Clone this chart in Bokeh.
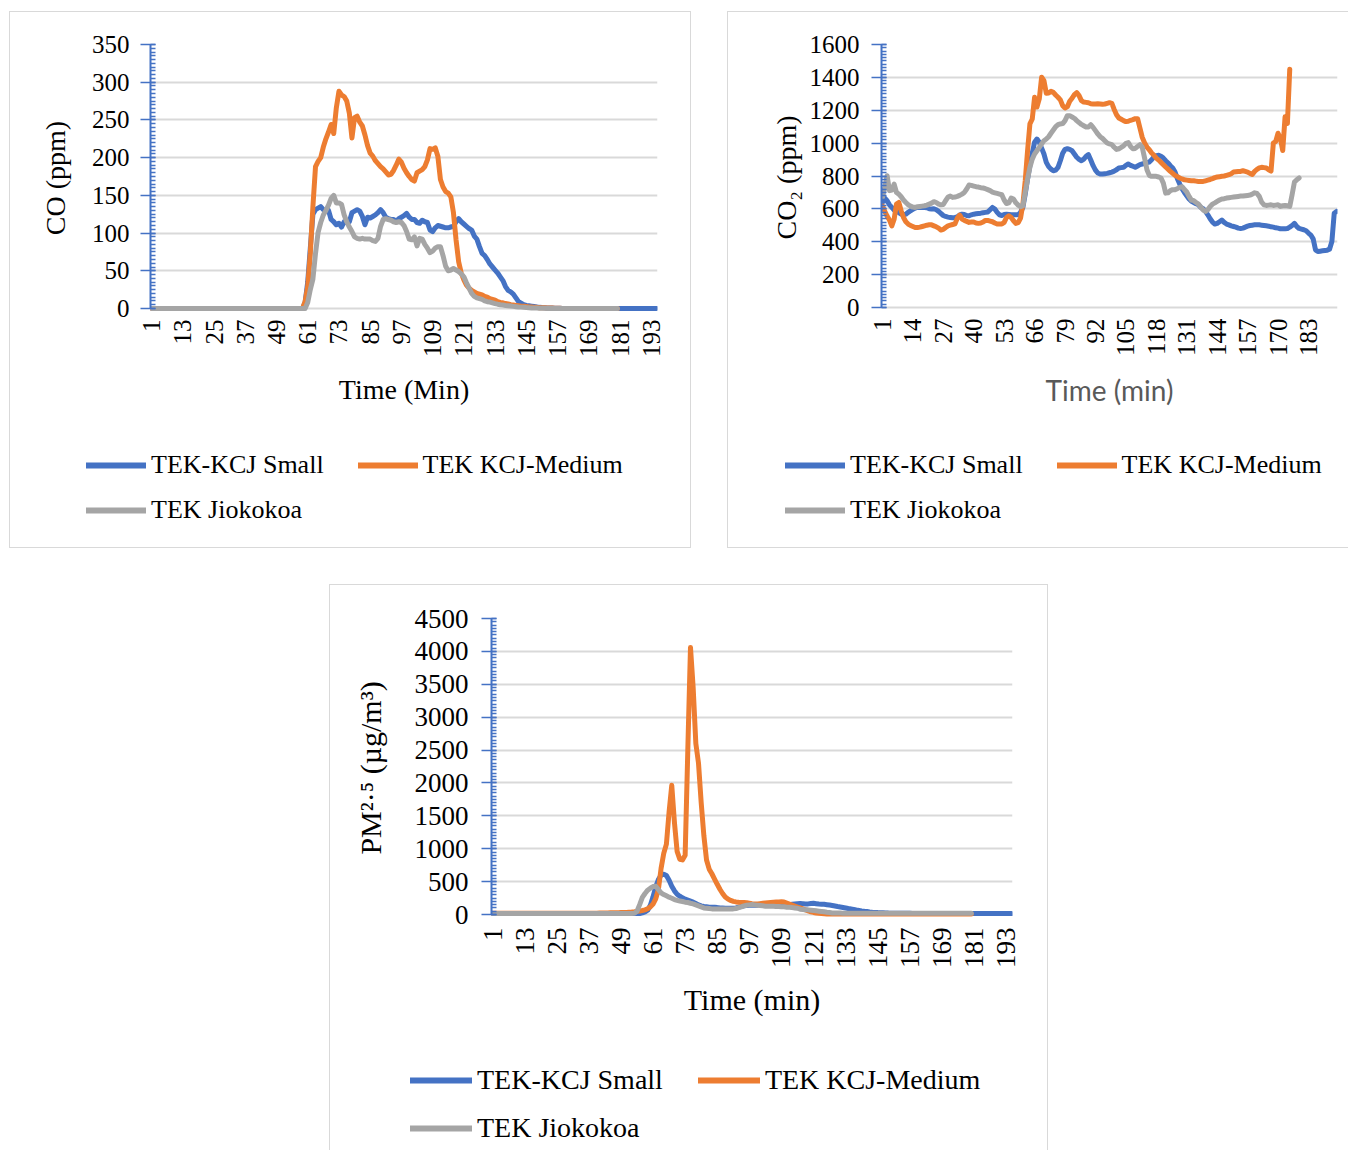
import math
from bokeh.plotting import figure
from bokeh.models import Range1d, FixedTicker, Legend, LegendItem, Spacer
from bokeh.layouts import row, column
from bokeh.embed import file_html
from bokeh.resources import INLINE

series_names = ["TEK-KCJ Small", "TEK KCJ-Medium", "TEK Jiokokoa"]
series_colors = ["#4472C4", "#ED7D31", "#A5A5A5"]

co_x_ticks = [1, 13, 25, 37, 49, 61, 73, 85, 97, 109, 121, 133, 145, 157, 169, 181, 193]
co2_x_ticks = [1, 14, 27, 40, 53, 66, 79, 92, 105, 118, 131, 144, 157, 170, 183]
pm_x_ticks = [1, 13, 25, 37, 49, 61, 73, 85, 97, 109, 121, 133, 145, 157, 169, 181, 193]
co_y_ticks = [0, 50, 100, 150, 200, 250, 300, 350]
co2_y_ticks = [0, 200, 400, 600, 800, 1000, 1200, 1400, 1600]
pm_y_ticks = [0, 500, 1000, 1500, 2000, 2500, 3000, 3500, 4000, 4500]

# ---------------- CO (ppm) ----------------
co_small = [
    0, 0, 0, 0, 0, 0, 0, 0, 0, 0,
    0, 0, 0, 0, 0, 0, 0, 0, 0, 0,
    0, 0, 0, 0, 0, 0, 0, 0, 0, 0,
    0, 0, 0, 0, 0, 0, 0, 0, 0, 0,
    0, 0, 0, 0, 0, 0, 0, 0, 0, 0,
    0, 0, 0, 0, 0, 0, 0, 0, 0, 8,
    35, 80, 125, 131, 133, 135, 131, 129, 130, 118,
    115, 111, 113, 108, 115, 114, 115, 127, 129, 131,
    129, 122, 111, 121, 120, 122, 124, 127, 131, 127,
    121, 119, 118, 118, 115, 119, 121, 123, 126, 121,
    118, 118, 114, 113, 117, 115, 114, 104, 102, 107,
    110, 109, 108, 107, 107, 108, 109, 115, 119, 115,
    112, 109, 106, 104, 96, 92, 82, 73, 70, 65,
    59, 55, 51, 47, 42, 37, 29, 24, 22, 19,
    14, 9, 7, 5, 4, 3.5, 3, 2.5, 2, 1.5,
    1.2, 1, 0.8, 0.6, 0.5, 0.4, 0.3, 0.2, 0.1, 0,
    0, 0, 0, 0, 0, 0, 0, 0, 0, 0,
    0, 0, 0, 0, 0, 0, 0, 0, 0, 0,
    0, 0, 0, 0, 0, 0, 0, 0, 0, 0,
    0, 0, 0, 0, 0,
]
co_medium = [
    0, 0, 0, 0, 0, 0, 0, 0, 0, 0,
    0, 0, 0, 0, 0, 0, 0, 0, 0, 0,
    0, 0, 0, 0, 0, 0, 0, 0, 0, 0,
    0, 0, 0, 0, 0, 0, 0, 0, 0, 0,
    0, 0, 0, 0, 0, 0, 0, 0, 0, 0,
    0, 0, 0, 0, 0, 0, 0, 0, 0, 9,
    29, 73, 135, 188, 195, 200, 214, 225, 234, 244,
    232, 266, 288, 283, 281, 275, 259, 226, 253, 255,
    247, 242, 230, 216, 206, 202, 196, 192, 188, 185,
    181, 177, 178, 183, 190, 198, 194, 186, 180, 175,
    171, 169, 180, 182, 184, 188, 197, 212, 211, 213,
    202, 171, 161, 155, 153, 148, 127, 91, 62, 47,
    38, 31, 27, 24, 22, 20, 19, 18, 16, 15,
    13, 12, 11, 9, 8, 7.5, 6.5, 6, 5, 4.5,
    4, 3.5, 3, 3, 2.5, 2, 2, 1.5, 1.5, 1,
    1, 1, 0.8, 0.6, 0.5, 0.4, 0.3, 0.2, 0.1, 0,
    0, 0, 0, 0, 0, 0, 0, 0, 0, 0,
    0, 0, 0, 0, 0, 0, 0, 0, 0, 0,
]
co_jiokokoa = [
    0, 0, 0, 0, 0, 0, 0, 0, 0, 0,
    0, 0, 0, 0, 0, 0, 0, 0, 0, 0,
    0, 0, 0, 0, 0, 0, 0, 0, 0, 0,
    0, 0, 0, 0, 0, 0, 0, 0, 0, 0,
    0, 0, 0, 0, 0, 0, 0, 0, 0, 0,
    0, 0, 0, 0, 0, 0, 0, 0, 0, 0,
    8, 25, 39, 73, 101, 114, 124, 130, 137, 146,
    150, 140, 140, 138, 124, 115, 108, 102, 95, 93,
    92, 93, 92, 92, 92, 90, 89, 93, 109, 118,
    119, 118, 117, 115, 114, 115, 114, 110, 102, 92,
    91, 95, 83, 93, 92, 85, 80, 74, 76, 80,
    82, 82, 70, 56, 50, 51, 53, 51, 49, 46,
    42, 34, 27, 20, 16, 14, 13, 12, 10, 9,
    8.5, 7.5, 6.5, 5.7, 5, 4.5, 4, 3.6, 3.2, 2.8,
    2.4, 2, 1.8, 1.5, 1.2, 1, 0.8, 0.6, 0.5, 0.4,
    0.3, 0.2, 0.1, 0, 0, 0, 0, 0, 0, 0,
    0, 0, 0, 0, 0, 0, 0, 0, 0, 0,
    0, 0, 0, 0, 0, 0, 0, 0, 0, 0,
]

# ---------------- CO2 (ppm) ----------------
co2_small = [
    640, 666, 650, 625, 609, 593, 585, 577, 568, 564,
    568, 579, 589, 597, 605, 609, 609, 609, 609, 607,
    601, 599, 601, 595, 585, 572, 560, 554, 550, 548,
    546, 548, 552, 562, 568, 566, 560, 558, 564, 568,
    570, 572, 574, 577, 579, 581, 595, 609, 599, 579,
    564, 560, 566, 568, 566, 564, 564, 564, 564, 579,
    609, 690, 782, 863, 938, 1005, 1025, 1005, 970, 934,
    883, 857, 842, 832, 836, 853, 893, 938, 962, 966,
    962, 954, 934, 914, 901, 893, 903, 920, 930, 897,
    863, 836, 818, 812, 812, 814, 816, 820, 824, 830,
    838, 849, 851, 853, 865, 873, 865, 859, 853, 861,
    869, 873, 877, 881, 885, 899, 916, 924, 926, 920,
    909, 893, 879, 863, 849, 824, 784, 751, 723, 700,
    680, 660, 646, 639, 631, 625, 609, 601, 585, 564,
    540, 520, 508, 512, 522, 532, 518, 508, 503, 497,
    493, 489, 483, 481, 483, 489, 495, 499, 501, 503,
    503, 503, 501, 499, 497, 495, 491, 489, 485, 483,
    479, 479, 479, 481, 489, 499, 512, 493, 481, 477,
    473, 467, 453, 441, 418, 351, 341, 343, 345, 347,
    349, 355, 402, 574, 585,
]
co2_medium = [
    619, 585, 556, 532, 497, 538, 629, 639, 589, 548,
    522, 508, 499, 493, 487, 487, 489, 493, 497, 501,
    503, 503, 497, 491, 483, 471, 475, 487, 497, 501,
    505, 509, 544, 562, 538, 530, 524, 518, 520, 520,
    514, 512, 514, 520, 530, 530, 526, 522, 514, 508,
    508, 508, 518, 548, 558, 548, 528, 512, 516, 544,
    629, 771, 954, 1117, 1147, 1279, 1220, 1269, 1401, 1380,
    1303, 1305, 1315, 1309, 1293, 1279, 1263, 1228, 1214, 1222,
    1255, 1273, 1295, 1307, 1289, 1259, 1250, 1248, 1246, 1240,
    1238, 1238, 1240, 1238, 1236, 1238, 1242, 1246, 1242, 1205,
    1173, 1153, 1145, 1137, 1131, 1133, 1139, 1143, 1149, 1149,
    1092, 1035, 1001, 976, 960, 940, 926, 909, 897, 883,
    869, 855, 842, 828, 816, 804, 796, 788, 782, 777,
    775, 773, 771, 771, 769, 767, 767, 767, 771, 775,
    779, 784, 790, 794, 796, 798, 800, 804, 808, 814,
    824, 826, 828, 828, 832, 828, 824, 816, 810, 828,
    840, 849, 853, 851, 849, 838, 830, 1000, 1010, 1060,
    1030, 955, 1160, 1120, 1450,
]
co2_jiokokoa = [
    670, 731, 802, 711, 715, 751, 700, 690, 674, 654,
    639, 625, 617, 611, 609, 613, 615, 617, 619, 623,
    629, 635, 644, 639, 629, 625, 627, 650, 672, 678,
    670, 672, 676, 682, 690, 700, 721, 745, 743, 739,
    735, 733, 729, 727, 723, 717, 711, 702, 698, 694,
    690, 686, 654, 633, 637, 666, 660, 637, 623, 613,
    619, 700, 782, 853, 903, 934, 954, 974, 995, 1015,
    1025, 1039, 1060, 1080, 1100, 1112, 1117, 1119, 1137, 1167,
    1167, 1159, 1151, 1137, 1125, 1114, 1106, 1098, 1098, 1112,
    1096, 1076, 1056, 1039, 1029, 1015, 1001, 995, 991, 975,
    962, 966, 974, 983, 999, 1003, 980, 966, 968, 980,
    991, 974, 909, 838, 804, 798, 798, 798, 794, 788,
    757, 696, 698, 711, 717, 717, 723, 731, 735, 719,
    703, 676, 654, 650, 639, 629, 611, 593, 585, 595,
    615, 629, 637, 646, 654, 660, 662, 666, 668, 670,
    672, 674, 676, 678, 678, 680, 682, 684, 690, 698,
    694, 676, 641, 625, 621, 623, 625, 621, 623, 625,
    615, 619, 621, 619, 615, 686, 763, 777, 788,
]

# ---------------- PM2.5 (ug/m3) ----------------
pm_small = [
    15, 15, 15, 15, 15, 15, 15, 15, 15, 15,
    15, 15, 15, 15, 15, 15, 15, 15, 15, 15,
    15, 15, 15, 15, 15, 15, 15, 15, 15, 15,
    15, 15, 15, 15, 15, 15, 15, 15, 15, 15,
    15, 15, 15, 15, 15, 15, 15, 15, 15, 15,
    15, 15, 15, 15, 15, 15, 25, 40, 66, 142,
    269, 421, 532, 598, 613, 593, 522, 431, 360, 309,
    279, 254, 233, 218, 203, 188, 167, 147, 132, 122,
    117, 112, 112, 112, 106, 101, 101, 96, 96, 96,
    96, 101, 112, 122, 132, 137, 142, 142, 142, 142,
    155, 152, 150, 148, 146, 145, 145, 146, 148, 150,
    148, 150, 155, 160, 165, 168, 165, 160, 162, 168,
    170, 165, 160, 158, 155, 150, 145, 138, 130, 122,
    115, 108, 100, 92, 85, 78, 70, 63, 56, 50,
    45, 40, 36, 33, 30, 28, 26, 24, 22, 21,
    20, 20, 19, 19, 18, 18, 18, 17, 17, 17,
    16, 16, 16, 16, 15, 15, 15, 15, 15, 15,
    15, 15, 15, 15, 15, 15, 15, 15, 15, 15,
    15, 15, 15, 15, 15, 15, 15, 15, 15, 15,
    15, 15, 15, 15, 15,
]
pm_medium = [
    20, 20, 20, 20, 20, 20, 20, 20, 20, 20,
    20, 20, 20, 20, 20, 20, 20, 20, 20, 20,
    20, 20, 20, 20, 20, 20, 20, 20, 20, 20,
    20, 20, 20, 20, 20, 20, 20, 20, 20, 20,
    22, 23, 24, 25, 26, 27, 28, 29, 30, 30,
    32, 35, 38, 42, 48, 55, 62, 72, 88, 116,
    160, 240, 380, 700, 930, 1070, 1560, 1964, 1400, 960,
    840, 830, 900, 2500, 4060, 3450, 2600, 2300, 1700, 1200,
    830, 690, 620, 540, 460, 385, 320, 265, 235, 215,
    200, 192, 188, 185, 182, 178, 172, 165, 160, 160,
    165, 170, 175, 180, 184, 188, 190, 192, 194, 190,
    175, 160, 145, 130, 115, 100, 85, 70, 55, 42,
    32, 24, 18, 14, 12, 10, 10, 10, 10, 10,
    10, 10, 10, 10, 10, 10, 10, 10, 10, 10,
    10, 10, 10, 10, 10, 10, 10, 10, 10, 10,
    10, 10, 10, 10, 10, 10, 10, 10, 10, 10,
    10, 10, 10, 10, 10, 10, 10, 10, 10, 10,
    10, 10, 10, 10, 10, 10, 10, 10, 10, 10,
]
pm_jiokokoa = [
    15, 15, 15, 15, 15, 15, 15, 15, 15, 15,
    15, 15, 15, 15, 15, 15, 15, 15, 15, 15,
    15, 15, 15, 15, 15, 15, 15, 15, 15, 15,
    15, 15, 15, 15, 15, 15, 15, 15, 15, 15,
    15, 15, 15, 15, 15, 15, 15, 15, 15, 15,
    15, 15, 15, 18, 50, 150, 260, 320, 370, 400,
    425, 431, 380, 330, 304, 284, 264, 248, 228, 215,
    205, 198, 188, 183, 172, 162, 147, 132, 117, 101,
    96, 91, 86, 86, 86, 86, 86, 86, 86, 86,
    86, 91, 106, 117, 132, 142, 147, 152, 147, 142,
    137, 132, 127, 127, 127, 127, 122, 122, 117, 117,
    112, 112, 106, 101, 96, 81, 76, 71, 71, 66,
    61, 56, 51, 46, 41, 35, 30, 25, 24, 23,
    22, 21, 20, 20, 20, 19, 19, 19, 18, 18,
    18, 18, 18, 18, 18, 18, 18, 18, 18, 18,
    18, 18, 18, 18, 18, 18, 18, 18, 18, 18,
    18, 18, 18, 18, 18, 18, 18, 18, 18, 18,
    18, 18, 18, 18, 18, 18, 18, 18, 18, 18,
]

AXIS_BLUE = "#4472C4"
GRID = "#D9D9D9"
SERIF = "Liberation Serif"


def no_align(p):
    try:
        p.frame_align = False
    except Exception:
        pass


def make_chart(cfg):
    y_ticks = cfg["y_ticks"]
    ymax = y_ticks[-1]
    step = y_ticks[1] - y_ticks[0]
    minor = [i * step / 10 for i in range(0, 10 * (len(y_ticks) - 1) + 1)]
    p = figure(width=cfg["width"], height=cfg["height"], output_backend="svg",
               toolbar_location=None,
               x_range=Range1d(0.6, cfg["n"] + 0.4),
               y_range=Range1d(-cfg["y_pad"], ymax),
               min_border_left=cfg["bl"], min_border_right=cfg["br"],
               min_border_top=cfg["bt"], min_border_bottom=cfg["bb"],
               background_fill_color="white", border_fill_color="white")
    p.outline_line_color = None
    no_align(p)

    for vals, color in zip(cfg["series"], series_colors):
        xs = list(range(1, len(vals) + 1))
        p.line(xs, vals, line_color=color, line_width=cfg["lw"],
               line_join="round", line_cap="round")

    yax = p.yaxis[0]
    yax.ticker = FixedTicker(ticks=y_ticks, minor_ticks=minor)
    yax.bounds = (0, ymax)
    yax.axis_line_color = AXIS_BLUE
    yax.axis_line_width = 2
    yax.major_tick_line_color = AXIS_BLUE
    yax.major_tick_line_width = 1.5
    yax.major_tick_in = 5
    yax.major_tick_out = 10
    yax.minor_tick_line_color = AXIS_BLUE
    yax.minor_tick_line_width = 1.5
    yax.minor_tick_in = 5
    yax.minor_tick_out = 0
    yax.major_label_text_font = SERIF
    yax.major_label_text_font_size = cfg["tick_px"]
    yax.major_label_text_color = "black"
    yax.major_label_standoff = cfg["ylab_standoff"]
    yax.axis_label = cfg["ylabel"]
    yax.axis_label_text_font = SERIF
    yax.axis_label_text_font_size = cfg["title_px"]
    yax.axis_label_text_font_style = "normal"
    yax.axis_label_text_color = "black"
    yax.axis_label_standoff = cfg["ytitle_standoff"]

    p.ygrid.grid_line_color = GRID
    p.ygrid.grid_line_width = 2
    p.xgrid.visible = False

    xax = p.xaxis[0]
    xax.ticker = FixedTicker(ticks=cfg["x_ticks"], minor_ticks=[])
    xax.axis_line_color = None
    xax.major_tick_line_color = None
    xax.minor_tick_line_color = None
    xax.major_tick_out = 0
    xax.major_tick_in = 0
    xax.minor_tick_out = 0
    xax.minor_tick_in = 0
    xax.major_label_orientation = math.pi / 2
    xax.major_label_text_font = SERIF
    xax.major_label_text_font_size = cfg["tick_px"]
    xax.major_label_text_color = "black"
    xax.major_label_standoff = cfg["xlab_standoff"]
    xax.axis_label = cfg["xlabel"]
    xax.axis_label_text_font = cfg["xlabel_font"]
    xax.axis_label_text_font_size = cfg["xtitle_px"]
    xax.axis_label_text_font_style = "normal"
    xax.axis_label_text_color = cfg["xlabel_color"]
    xax.axis_label_standoff = cfg["xtitle_standoff"]
    return p


def make_legend(cfg):
    lg = figure(width=cfg["width"], height=cfg["leg_height"], output_backend="svg",
                toolbar_location=None, x_axis_location=None, y_axis_location=None,
                x_range=Range1d(0, 1), y_range=Range1d(0, 1),
                min_border=0, background_fill_color="white", border_fill_color="white")
    lg.outline_line_color = None
    lg.grid.visible = False
    no_align(lg)
    keys = []
    for color in series_colors:
        # legend key proxies: a single NaN point, nothing is drawn in the plot area
        keys.append(lg.line(x=[float("nan")], y=[float("nan")], line_color=color,
                            line_width=cfg["leg_lw"], line_cap="round"))
    for idxs, vy in (((0, 1), cfg["leg_y1"]), ((2,), cfg["leg_y2"])):
        items = [LegendItem(label=series_names[i], renderers=[keys[i]]) for i in idxs]
        leg = Legend(items=items, orientation="horizontal", location=(cfg["leg_x"], vy),
                     glyph_width=cfg["glyph_w"], glyph_height=cfg["item_h"],
                     label_height=cfg["item_h"], label_standoff=5,
                     spacing=cfg["leg_spacing"], padding=0, margin=0,
                     border_line_color=None, background_fill_alpha=0,
                     label_text_font=SERIF, label_text_font_size=cfg["legend_px"],
                     label_text_color="black")
        lg.add_layout(leg)
    return lg


def hline(w):
    return Spacer(width=w, height=1, styles={"background-color": GRID})


def vline(h):
    return Spacer(width=1, height=h, styles={"background-color": GRID})


cfg1 = dict(
    series=[co_small, co_medium, co_jiokokoa], n=195,
    x_ticks=co_x_ticks, y_ticks=co_y_ticks, y_pad=4,
    width=680, height=418, bl=140, br=33, bt=32, bb=119, lw=5,
    tick_px="25px", title_px="28px", xtitle_px="28px", legend_px="26px",
    ylabel="CO (ppm)", xlabel="Time (Min)", xlabel_font=SERIF, xlabel_color="black",
    ylab_standoff=11, ytitle_standoff=18, xlab_standoff=8, xtitle_standoff=14,
    leg_height=117, leg_x=76, leg_y1=67, leg_y2=22, glyph_w=60, leg_spacing=34,
    item_h=30, leg_lw=6,
)
cfg2 = dict(
    series=[co2_small, co2_medium, co2_jiokokoa], n=195,
    x_ticks=co2_x_ticks, y_ticks=co2_y_ticks, y_pad=18,
    width=620, height=418, bl=153, br=11, bt=32, bb=120, lw=5,
    tick_px="25px", title_px="28px", xtitle_px="28px", legend_px="26px",
    ylabel="CO\u2082 (ppm)", xlabel="Time (min)", xlabel_font="Lato", xlabel_color="#595959",
    ylab_standoff=12, ytitle_standoff=5, xlab_standoff=8, xtitle_standoff=14,
    leg_height=117, leg_x=57, leg_y1=67, leg_y2=22, glyph_w=60, leg_spacing=34,
    item_h=30, leg_lw=6,
)
cfg3 = dict(
    series=[pm_small, pm_medium, pm_jiokokoa], n=195,
    x_ticks=pm_x_ticks, y_ticks=pm_y_ticks, y_pad=45,
    width=717, height=455, bl=161, br=35, bt=33, bb=123, lw=5,
    tick_px="27px", title_px="30px", xtitle_px="30px", legend_px="28px",
    ylabel="PM\u00b2\u00b7\u2075 (\u00b5g/m\u00b3)", xlabel="Time (min)", xlabel_font=SERIF,
    xlabel_color="black",
    ylab_standoff=13, ytitle_standoff=25, xlab_standoff=10, xtitle_standoff=12,
    leg_height=110, leg_x=80, leg_y1=54, leg_y2=6, glyph_w=62, leg_spacing=35,
    item_h=32, leg_lw=6,
)

p1, l1 = make_chart(cfg1), make_legend(cfg1)
p2, l2 = make_chart(cfg2), make_legend(cfg2)
p3, l3 = make_chart(cfg3), make_legend(cfg3)

box1 = column(
    hline(682),
    row(vline(535), column(p1, l1), vline(535)),
    hline(682),
)
box2 = column(
    hline(621),
    row(vline(535), column(p2, l2)),
    hline(621),
)
box3 = column(
    hline(719),
    row(vline(565), column(p3, l3), vline(565)),
)

layout = column(
    Spacer(height=11),
    row(Spacer(width=9), box1, Spacer(width=36), box2),
    Spacer(height=36),
    row(Spacer(width=329), box3),
)

open("out.html", "w").write(file_html(layout, INLINE))
